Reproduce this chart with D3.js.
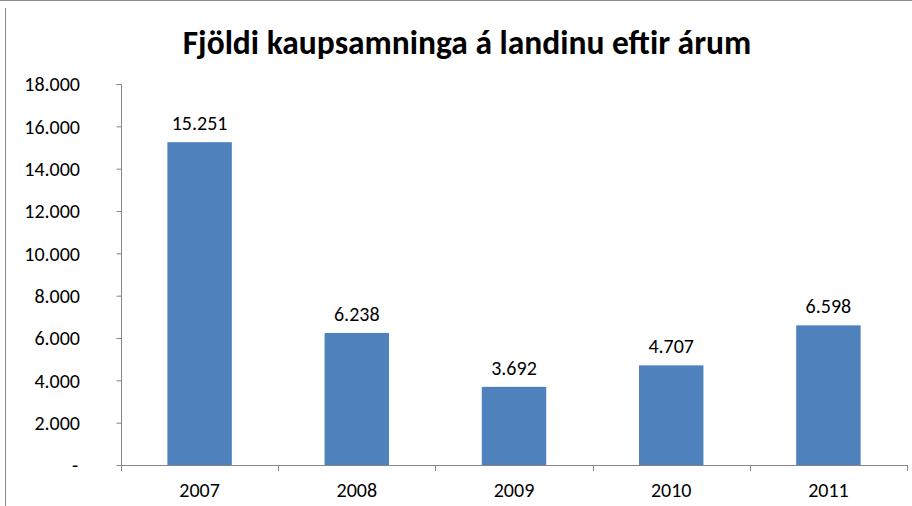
<!DOCTYPE html>
<html>
<head>
<meta charset="utf-8">
<script src="https://cdn.jsdelivr.net/npm/d3@7"></script>
<style>
  body { margin: 0; background: #fff; }
  svg text { font-family: Calibri, Carlito, "Liberation Sans", sans-serif; fill: #000; }
</style>
</head>
<body>
<div id="chart"></div>
<script>
// data
const years = ['2007', '2008', '2009', '2010', '2011'];
const counts = [15251, 6238, 3692, 4707, 6598];
const yTicks = [0, 2000, 4000, 6000, 8000, 10000, 12000, 14000, 16000, 18000];
const title = 'Fjöldi kaupsamninga á landinu eftir árum';

const width = 912, height = 506;
const margin = { top: 84, right: 5, bottom: 41, left: 121 };

const svg = d3.select('#chart')
  .append('svg')
  .attr('width', width)
  .attr('height', height);

// chart frame (partly cut off in the reference)
svg.append('line')
  .attr('x1', 0).attr('x2', width).attr('y1', 0.5).attr('y2', 0.5)
  .attr('stroke', '#8c8c8c');
svg.append('line')
  .attr('x1', 5.5).attr('x2', 5.5).attr('y1', 8).attr('y2', height)
  .attr('stroke', '#8c8c8c');

const x = d3.scaleBand()
  .domain(years)
  .range([margin.left, width - margin.right])
  .paddingInner(0.59)
  .paddingOuter(0.295);

const y = d3.scaleLinear()
  .domain([0, 18000])
  .range([height - margin.bottom, margin.top]);

// Icelandic thousands separator is a dot
const fmt = d => d === 0 ? '-' : d3.format(',')(d).replace(/,/g, '.');

// y axis
const yAxis = svg.append('g')
  .attr('transform', `translate(${margin.left + 0.5},0)`)
  .call(d3.axisLeft(y).tickValues(yTicks).tickSize(5).tickFormat(''));
yAxis.selectAll('path, line').attr('stroke', '#868686');
yAxis.select('.domain').attr('d', `M-5,${y(18000) + 0.5}H0V${y(0) + 0.5}`);

svg.append('g')
  .selectAll('text')
  .data(yTicks)
  .join('text')
  .attr('x', d => d === 0 ? 78 : 80)
  .attr('y', d => y(d))
  .attr('dy', '0.36em')
  .attr('text-anchor', 'end')
  .style('font-size', '20px')
  .text(fmt);

// x axis with ticks between categories
const step = x.step();
const bounds = d3.range(years.length + 1).map(i => margin.left + i * step);
const xg = svg.append('g');
xg.append('line')
  .attr('x1', margin.left).attr('x2', width - margin.right)
  .attr('y1', y(0) + 0.5).attr('y2', y(0) + 0.5)
  .attr('stroke', '#868686');
xg.selectAll('.tk')
  .data(bounds)
  .join('line')
  .attr('class', 'tk')
  .attr('x1', d => Math.round(d) + 0.5).attr('x2', d => Math.round(d) + 0.5)
  .attr('y1', y(0)).attr('y2', y(0) + 6)
  .attr('stroke', '#868686');
xg.selectAll('text')
  .data(years)
  .join('text')
  .attr('x', d => x(d) + x.bandwidth() / 2)
  .attr('y', 497)
  .attr('text-anchor', 'middle')
  .style('font-size', '20px')
  .text(d => d);

// bars
svg.append('g')
  .selectAll('rect')
  .data(years)
  .join('rect')
  .attr('x', d => x(d))
  .attr('y', (d, i) => y(counts[i]))
  .attr('width', x.bandwidth())
  .attr('height', (d, i) => y(0) - y(counts[i]))
  .attr('fill', '#4f81bd');

// value labels
svg.append('g')
  .selectAll('text')
  .data(years)
  .join('text')
  .attr('x', d => x(d) + x.bandwidth() / 2)
  .attr('y', (d, i) => y(counts[i]) - 12)
  .attr('text-anchor', 'middle')
  .style('font-size', '20px')
  .text((d, i) => fmt(counts[i]));

// title, sized to match the reference width
const t = svg.append('text')
  .attr('x', 467)
  .attr('y', 54)
  .attr('text-anchor', 'middle')
  .style('font-weight', 'bold')
  .style('font-size', '28px')
  .text(title);
const w = t.node().getComputedTextLength();
t.style('font-size', (28 * 569 / w).toFixed(1) + 'px');
</script>
</body>
</html>
